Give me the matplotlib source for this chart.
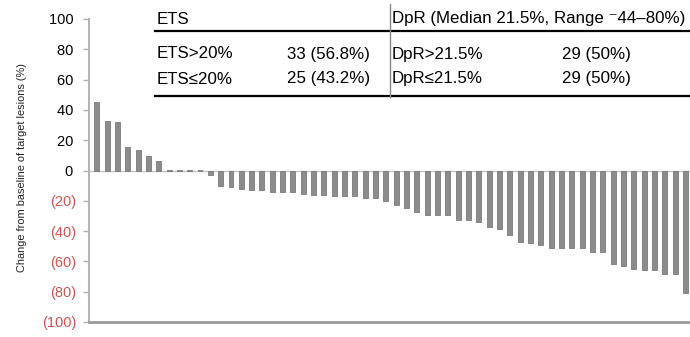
import matplotlib
matplotlib.use("Agg")
import matplotlib.pyplot as plt
from matplotlib.lines import Line2D

plt.rcParams['font.family'] = ['Liberation Sans', 'DejaVu Sans']

# Per-patient change from baseline of target lesions (%), sorted waterfall
change = [45, 33, 32, 15.5, 13.5, 9.5, 6.5, 0.5, 0.5, 0.5, 0.5, -3,
          -10, -11, -12, -13, -13, -14, -14, -14.5, -15.5, -16, -16.5, -17,
          -17, -17, -18, -18,
          -20, -23, -25, -27.5, -29.5, -29.5, -29.5, -32.5, -32.5, -34, -37,
          -38.5, -42.5, -47, -48, -49, -51, -51, -51, -51, -54, -54, -62, -63,
          -65, -65.5, -66, -68.5, -68.5, -81]

yticks = [100, 80, 60, 40, 20, 0, -20, -40, -60, -80, -100]
ylabel = "Change from baseline of target lesions (%)"

# Summary table rows
table_header = ["ETS", "DpR (Median 21.5%, Range \u207b44\u201380%)"]
table_rows = [["ETS>20%", "33 (56.8%)", "DpR>21.5%", "29 (50%)"],
              ["ETS\u226420%", "25 (43.2%)", "DpR\u226421.5%", "29 (50%)"]]

W, H = 690, 337
fig = plt.figure(figsize=(W / 100, H / 100), dpi=100)
ax = fig.add_axes([89 / W, 15 / H, (W - 89) / W, (322 - 19) / H])

x = list(range(len(change)))
ax.bar(x, change, width=0.48, color="#8c8c8c", edgecolor="#7a7a7a",
       linewidth=0.6, zorder=3)
ax.axhline(0, color="#c4c4c4", lw=1.0, zorder=2)

ax.set_xlim(-0.75, len(change) - 0.55)
ax.set_ylim(-100, 100)
ax.set_xticks([])

ax.set_yticks(yticks)
labels = [f"{t}\u2009" if t >= 0 else f"({-t})" for t in yticks]
ax.set_yticklabels(labels, fontsize=10.5)
for lab, t in zip(ax.get_yticklabels(), yticks):
    lab.set_color("black" if t >= 0 else "#cc5555")
ax.tick_params(axis="y", length=4, width=1, color="#b0b0b0", pad=5)

for side in ("top", "right"):
    ax.spines[side].set_visible(False)
ax.spines["left"].set_color("#b4b4b4")
ax.spines["left"].set_linewidth(1.5)
ax.spines["bottom"].set_color("#9a9a9a")
ax.spines["bottom"].set_linewidth(2.0)

fig.text(22 / W, 1 - 168 / H, ylabel, rotation=90, ha="center", va="center",
         fontsize=7.9, color="#222222")

# Table drawn in figure pixel coordinates
def fx(px):
    return px / W

def fy(py):
    return 1 - py / H

fs = 12.2
fig.text(fx(157), fy(19), table_header[0], fontsize=fs, va="center", ha="left")
fig.text(fx(392), fy(19), table_header[1], fontsize=fs, va="center", ha="left")
row_y = [54, 79]
col_x = [157, 287, 392, 562]
for ry, row in zip(row_y, table_rows):
    for cx, txt in zip(col_x, row):
        fig.text(fx(cx), fy(ry), txt, fontsize=fs, va="center", ha="left")

fig.add_artist(Line2D([fx(155), fx(690)], [fy(30.5), fy(30.5)], color="black", lw=1.6))
fig.add_artist(Line2D([fx(155), fx(690)], [fy(96.5), fy(96.5)], color="black", lw=1.6))
fig.add_artist(Line2D([fx(390), fx(390)], [fy(4), fy(97)], color="#888888", lw=1.0))

fig.savefig("out.png", dpi=100)
